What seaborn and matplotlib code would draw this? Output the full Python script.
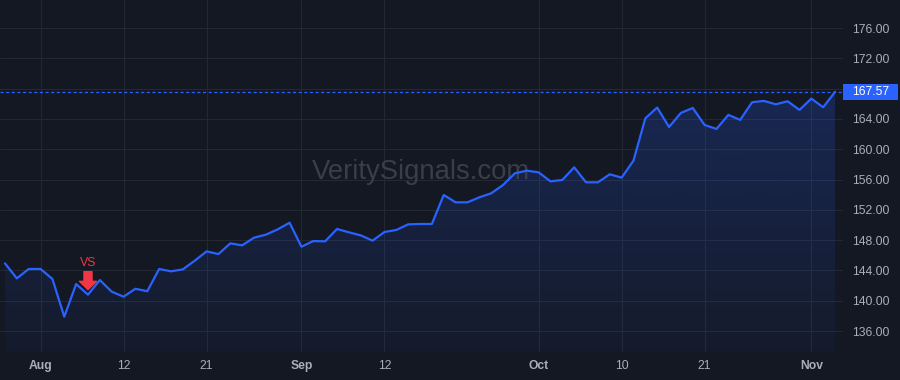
import numpy as np
import pandas as pd
import seaborn as sns
import matplotlib
matplotlib.use("Agg")
import matplotlib.pyplot as plt
import matplotlib.transforms as mtransforms
from matplotlib.colors import to_rgb
from matplotlib.patches import Rectangle

# ---------------------------------------------------------
# DATA (daily closes, one per trading day, Jul 29 -> Nov 5)
# ---------------------------------------------------------

prices = [
    144.93, 142.95, 144.19, 144.19, 142.87, 137.89, 142.20, 140.80, 142.73, 141.19,
    140.53, 141.58, 141.25, 144.19, 143.88, 144.14, 145.28, 146.51, 146.16, 147.57,
    147.31, 148.32, 148.72, 149.42, 150.30, 147.13, 147.88, 147.84, 149.47, 149.03,
    148.63, 147.93, 149.07, 149.34, 150.08, 150.13, 150.13, 153.96, 152.99, 152.99,
    153.65, 154.18, 155.28, 156.82, 157.17, 156.95, 155.76, 155.94, 157.61, 155.63,
    155.63, 156.69, 156.25, 158.49, 164.08, 165.50, 162.94, 164.79, 165.45, 163.20,
    162.68, 164.53, 163.87, 166.20, 166.38, 165.93, 166.33, 165.19, 166.68, 165.54,
    167.57,
]

tick_pos = [3, 10, 17, 25, 32, 45, 52, 59, 68]
tick_labels = ["Aug", "12", "21", "Sep", "12", "Oct", "10", "21", "Nov"]
month_labels = ["Aug", "Sep", "Oct", "Nov"]
y_ticks = [136, 140, 144, 148, 152, 156, 160, 164, 168, 172, 176]

signal_index = 7
signal_label = "VS"
watermark = "VeritySignals.com"

# ---------------------------------------------------------
# STYLE
# ---------------------------------------------------------

BG = "#141823"
GRID = "#242833"
LINE = "#2962ff"
TEXT = "#abaeb7"
RED = "#f23645"

sns.set_theme(style="dark", rc={"figure.facecolor": BG, "axes.facecolor": BG})
plt.rcParams["font.family"] = ["Liberation Sans", "DejaVu Sans"]

df = pd.DataFrame({"idx": np.arange(len(prices)), "price": prices})
last_price = prices[-1]

fig = plt.figure(figsize=(9, 3.8), dpi=100)
ax = fig.add_axes([0, 28 / 380, 843 / 900, 352 / 380])

y_lo, y_hi = 133.23, 179.7
x_lo, x_hi = -0.42, len(prices) - 1 + 0.67

# gradient area under the line
poly = ax.fill_between(df["idx"], df["price"], y_lo, color="none", lw=0)
grad = np.zeros((256, 1, 4))
grad[..., :3] = to_rgb(LINE)
grad[:, 0, 3] = np.linspace(0.22, 0.04, 256)
im = ax.imshow(grad, extent=[0, len(prices) - 1, y_lo, max(prices)],
               origin="upper", aspect="auto", zorder=1)
im.set_clip_path(poly.get_paths()[0], transform=ax.transData)

ax.text(0.5, 0.511, watermark, transform=ax.transAxes, ha="center",
        va="center", fontsize=19.8, color="#3a3e49", zorder=1.5)

sns.lineplot(data=df, x="idx", y="price", ax=ax, color=LINE, linewidth=1.6, zorder=3)

# last price dotted line + label
ax.axhline(last_price, color=LINE, lw=0.9, linestyle=(0, (2.5, 2)), zorder=2)
blend = mtransforms.blended_transform_factory(ax.transAxes, ax.transData)
box_h = 16 / 7.575
ax.add_patch(Rectangle((1.0, last_price - box_h / 2), 55 / 843, box_h,
                       transform=blend, clip_on=False, fc=LINE, ec="none", zorder=5))
ax.text(1.0 + 9 / 843, last_price, f"{last_price:.2f}", transform=blend,
        ha="left", va="center", color="white", fontsize=8.7, zorder=6)

# signal marker
sig_y = prices[signal_index]
ax.annotate("", xy=(signal_index, sig_y), xytext=(0, 23 * 0.72),
            textcoords="offset points",
            arrowprops=dict(arrowstyle="simple,head_length=6,head_width=12.2,tail_width=5.8",
                            mutation_scale=1, color=RED, shrinkA=0, shrinkB=5 * 0.72),
            zorder=6)
ax.annotate(signal_label, xy=(signal_index, sig_y), xytext=(0, 32 * 0.72),
            textcoords="offset points", ha="center", va="center",
            color=RED, fontsize=8.8, zorder=6)

# axes
ax.set_xlim(x_lo, x_hi)
ax.set_ylim(y_lo, y_hi)
ax.set_xticks(tick_pos, tick_labels)
ax.set_yticks(y_ticks, [f"{t:.2f}" if abs(t - last_price) > 2 else "" for t in y_ticks])
ax.yaxis.tick_right()
ax.tick_params(axis="y", length=0, pad=6.5, labelsize=8.7, labelcolor=TEXT)
ax.tick_params(axis="x", length=0, pad=6, labelsize=8.7, labelcolor=TEXT)
for lab in ax.get_xticklabels():
    if lab.get_text() in month_labels:
        lab.set_fontweight("bold")
ax.grid(True, color=GRID, lw=0.8)
ax.set_xlabel("")
ax.set_ylabel("")
for s in ax.spines.values():
    s.set_visible(False)

fig.savefig("out.png", dpi=100, facecolor=BG)
